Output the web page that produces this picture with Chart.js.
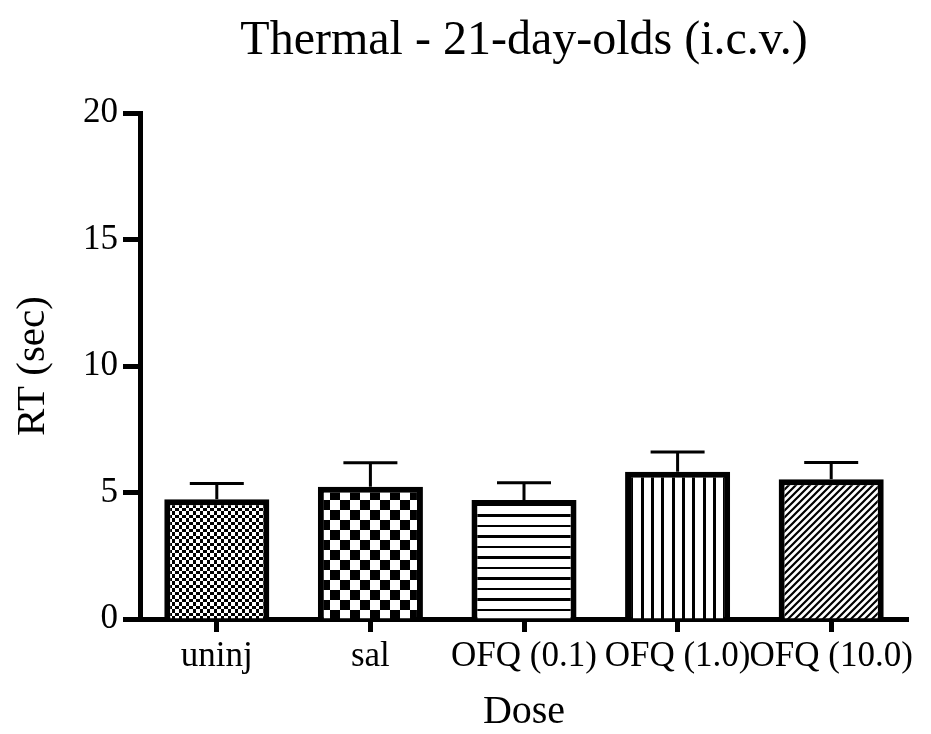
<!DOCTYPE html>
<html>
<head>
<meta charset="utf-8">
<title>Thermal - 21-day-olds (i.c.v.)</title>
<script src="https://cdn.jsdelivr.net/npm/chart.js"></script>
<style>
  html, body { margin: 0; padding: 0; background: #fff; }
  #caja { width: 931px; height: 734px; }
</style>
</head>
<body>
<div id="caja"><canvas id="myChart"></canvas></div>
<script>
// Datos: dosis, tiempo de reaccion medio y su error (solo hacia arriba)
const dosis = ['uninj', 'sal', 'OFQ (0.1)', 'OFQ (1.0)', 'OFQ (10.0)'];
const mediaRT = [4.73, 5.23, 4.70, 5.82, 5.52];
const errorRT = [0.63, 0.95, 0.69, 0.78, 0.67];
const marcasY = [0, 5, 10, 15, 20];

const fuente = '"Liberation Serif", "Times New Roman", serif';

// Baldosa pequeña en un canvas aparte para usarla como patron de relleno
function baldosa(ancho, alto, fondo, dibujar) {
    const c = document.createElement('canvas');
    c.width = ancho;
    c.height = alto;
    const g = c.getContext('2d');
    g.fillStyle = fondo;
    g.fillRect(0, 0, ancho, alto);
    g.fillStyle = fondo === '#000' ? '#fff' : '#000';
    g.strokeStyle = '#000';
    dibujar(g);
    return c;
}

function patrones(ctx) {
    // cuadritos finos (puntos blancos sobre negro)
    const fino = baldosa(7, 7, '#000', g => {
        g.fillRect(0, 0, 4, 4);
        g.fillRect(4, 4, 3, 3);
    });
    // tablero de ajedrez grande
    const grueso = baldosa(20, 20, '#fff', g => {
        g.fillRect(0, 0, 10, 10);
        g.fillRect(10, 10, 10, 10);
    });
    // rayas horizontales
    const horiz = baldosa(10, 21, '#fff', g => {
        g.fillRect(0, 0, 10, 2);
        g.fillRect(0, 10, 10, 3);
    });
    // rayas verticales
    const vert = baldosa(31, 10, '#fff', g => {
        g.fillRect(0, 0, 3, 10);
        g.fillRect(10, 0, 3, 10);
        g.fillRect(21, 0, 3, 10);
    });
    // rayas diagonales /
    const diag = baldosa(7, 7, '#fff', g => {
        g.lineWidth = 2.2;
        g.beginPath();
        g.moveTo(-1, 8); g.lineTo(8, -1);
        g.moveTo(-2, 2); g.lineTo(2, -2);
        g.moveTo(5, 9); g.lineTo(9, 5);
        g.stroke();
    });
    return [fino, grueso, horiz, vert, diag].map(b => ctx.createPattern(b, 'repeat'));
}

// Barras de error: linea vertical desde la barra y tope horizontal
const barrasError = {
    id: 'barrasError',
    afterDatasetsDraw(chart) {
        const ctx = chart.ctx;
        const y = chart.scales.y;
        ctx.save();
        ctx.strokeStyle = '#000';
        ctx.lineWidth = 3;
        chart.getDatasetMeta(0).data.forEach((b, i) => {
            const arriba = y.getPixelForValue(mediaRT[i] + errorRT[i]);
            ctx.beginPath();
            ctx.moveTo(b.x, b.y);
            ctx.lineTo(b.x, arriba);
            ctx.moveTo(b.x - 27, arriba);
            ctx.lineTo(b.x + 27, arriba);
            ctx.stroke();
        });
        ctx.restore();
    }
};

const cnv = document.getElementById('myChart');

new Chart(cnv, {
    type: 'bar',
    data: {
        labels: dosis,
        datasets: [{
            data: mediaRT,
            backgroundColor: patrones(cnv.getContext('2d')),
            borderColor: '#000',
            borderWidth: 6,
            borderSkipped: 'start',
            barPercentage: 0.684,
            categoryPercentage: 1
        }]
    },
    options: {
        responsive: true,
        maintainAspectRatio: false,
        animation: false,
        devicePixelRatio: 1,
        layout: { padding: { left: 0, right: 23, top: 0, bottom: 0 } },
        plugins: {
            legend: { display: false },
            tooltip: { enabled: false },
            title: {
                display: true,
                text: 'Thermal - 21-day-olds (i.c.v.)',
                fullSize: false,
                color: '#000',
                font: { family: fuente, size: 48, weight: 'normal' },
                padding: { top: 13, bottom: 42.4 }
            }
        },
        scales: {
            x: {
                z: 1,
                offset: true,
                grid: { offset: false, drawOnChartArea: false, tickLength: 13, tickWidth: 5, tickColor: '#000' },
                border: { color: '#000', width: 5 },
                ticks: { color: '#000', font: { family: fuente, size: 35 }, padding: 4, maxRotation: 0, autoSkip: false },
                title: {
                    display: true,
                    text: 'Dose',
                    color: '#000',
                    font: { family: fuente, size: 40 },
                    padding: { top: 0, bottom: -2.5 }
                },
                afterFit(s) { s.height = 115; }
            },
            y: {
                z: 1,
                min: 0,
                max: 20,
                afterBuildTicks(s) { s.ticks = marcasY.map(v => ({ value: v })); },
                grid: { drawOnChartArea: false, tickLength: 17, tickWidth: 5, tickColor: '#000' },
                border: { color: '#000', width: 5 },
                ticks: { color: '#000', font: { family: fuente, size: 35 }, padding: 5 },
                title: {
                    display: true,
                    text: 'RT (sec)',
                    color: '#000',
                    font: { family: fuente, size: 41 },
                    padding: { top: 9, bottom: 0 }
                },
                afterFit(s) { s.width = 140; }
            }
        }
    },
    plugins: [barrasError]
});
</script>
</body>
</html>
